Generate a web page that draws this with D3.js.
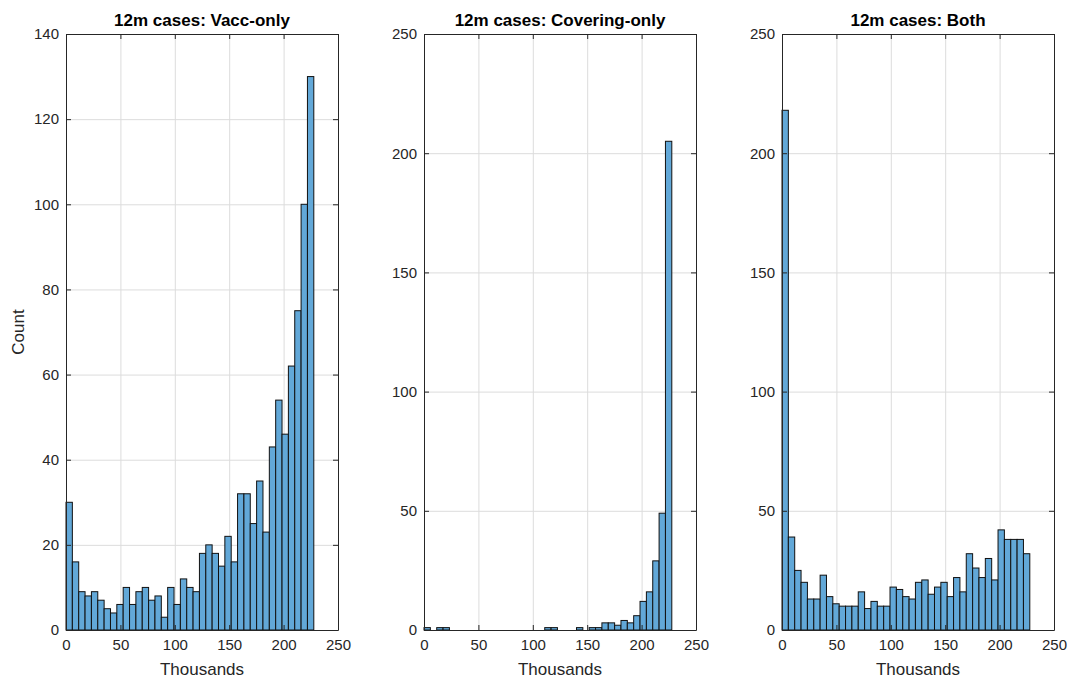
<!DOCTYPE html>
<html>
<head>
<meta charset="utf-8">
<script src="https://cdn.jsdelivr.net/npm/d3@7"></script>
<style>
  body { margin: 0; background: #fff; }
  svg { font-family: "Liberation Sans", Arial, sans-serif; display: block; }
  .grid line { stroke: #dcdcdc; stroke-width: 1; }
  .grid path { display: none; }
  .axis path, .axis line { stroke: #262626; stroke-width: 1; }
  .axis text { fill: #262626; font-size: 15px; }
</style>
</head>
<body>
<div id="chart"></div>
<script>
// histogram counts, 39 equal bins starting at 0 (thousands)
var binWidth = 5.84;
var titles = ["12m cases: Vacc-only", "12m cases: Covering-only", "12m cases: Both"];
var vaccOnly = [30, 16, 9, 8, 9, 7, 5, 4, 6, 10, 6, 9, 10, 7, 8, 3, 10, 6, 12, 10,
                9, 18, 20, 18, 15, 22, 16, 32, 32, 25, 35, 23, 43, 54, 46, 62, 75, 100, 130];
var coveringOnly = [1, 0, 1, 1, 0, 0, 0, 0, 0, 0, 0, 0, 0, 0, 0, 0, 0, 0, 0, 1,
                    1, 0, 0, 0, 1, 0, 1, 1, 3, 3, 2, 4, 3, 6, 12, 16, 29, 49, 205];
var both = [218, 39, 25, 20, 13, 13, 23, 14, 11, 10, 10, 10, 16, 9, 12, 10, 10, 18, 17, 14,
            13, 20, 21, 15, 18, 20, 14, 22, 16, 32, 26, 22, 30, 21, 42, 38, 38, 38, 32];
var xTicks = [0, 50, 100, 150, 200, 250];
var yTicksList = [[0, 20, 40, 60, 80, 100, 120, 140],
                  [0, 50, 100, 150, 200, 250],
                  [0, 50, 100, 150, 200, 250]];
var seriesList = [vaccOnly, coveringOnly, both];

var W = 1071, H = 681,
    plotTop = 34, plotW = 272, plotH = 596,
    lefts = [66, 424, 782],
    barFill = "#62a8d8";

var svg = d3.select("#chart").append("svg")
    .attr("width", W).attr("height", H);
svg.append("rect").attr("width", W).attr("height", H).attr("fill", "#fff");

seriesList.forEach(function(counts, p) {
  var yTicks = yTicksList[p];
  var x = d3.scaleLinear().domain([0, 250]).range([0, plotW]);
  var y = d3.scaleLinear().domain([0, d3.max(yTicks)]).range([plotH, 0]);

  var g = svg.append("g")
      .attr("transform", "translate(" + lefts[p] + "," + plotTop + ")");

  // grid
  g.append("g").attr("class", "grid")
      .attr("transform", "translate(0," + plotH + ")")
      .call(d3.axisBottom(x).tickValues(xTicks.slice(1, -1)).tickSize(-plotH).tickFormat(""));
  g.append("g").attr("class", "grid")
      .call(d3.axisLeft(y).tickValues(yTicks.slice(1, -1)).tickSize(-plotW).tickFormat(""));

  // bars
  g.selectAll("rect.bar")
    .data(counts)
    .enter().append("rect")
      .attr("class", "bar")
      .attr("x", function(d, i) { return x(i * binWidth); })
      .attr("width", function(d, i) { return x((i + 1) * binWidth) - x(i * binWidth); })
      .attr("y", function(d) { return y(d); })
      .attr("height", function(d) { return plotH - y(d); })
      .attr("fill", barFill)
      .attr("stroke", "#111")
      .attr("stroke-width", 1);

  // axes with inward ticks on all four sides
  g.append("g").attr("class", "axis")
      .attr("transform", "translate(0," + plotH + ")")
      .call(d3.axisBottom(x).tickValues(xTicks).tickSizeInner(-5).tickSizeOuter(0).tickPadding(9));
  g.append("g").attr("class", "axis")
      .call(d3.axisTop(x).tickValues(xTicks).tickSizeInner(-5).tickSizeOuter(0).tickFormat(""));
  g.append("g").attr("class", "axis")
      .call(d3.axisLeft(y).tickValues(yTicks).tickSizeInner(-5).tickSizeOuter(0).tickPadding(7));
  g.append("g").attr("class", "axis")
      .attr("transform", "translate(" + plotW + ",0)")
      .call(d3.axisRight(y).tickValues(yTicks).tickSizeInner(-5).tickSizeOuter(0).tickFormat(""));

  g.append("text")
      .attr("x", plotW / 2).attr("y", -8)
      .attr("text-anchor", "middle")
      .attr("font-weight", "bold")
      .attr("font-size", "17px")
      .attr("fill", "#000")
      .text(titles[p]);

  g.append("text")
      .attr("x", plotW / 2).attr("y", plotH + 45)
      .attr("text-anchor", "middle")
      .attr("font-size", "17px")
      .attr("fill", "#262626")
      .text("Thousands");

  if (p === 0) {
    g.append("text")
        .attr("transform", "translate(-42," + (plotH / 2) + ") rotate(-90)")
        .attr("text-anchor", "middle")
        .attr("font-size", "17px")
        .attr("fill", "#262626")
        .text("Count");
  }
});
</script>
</body>
</html>
